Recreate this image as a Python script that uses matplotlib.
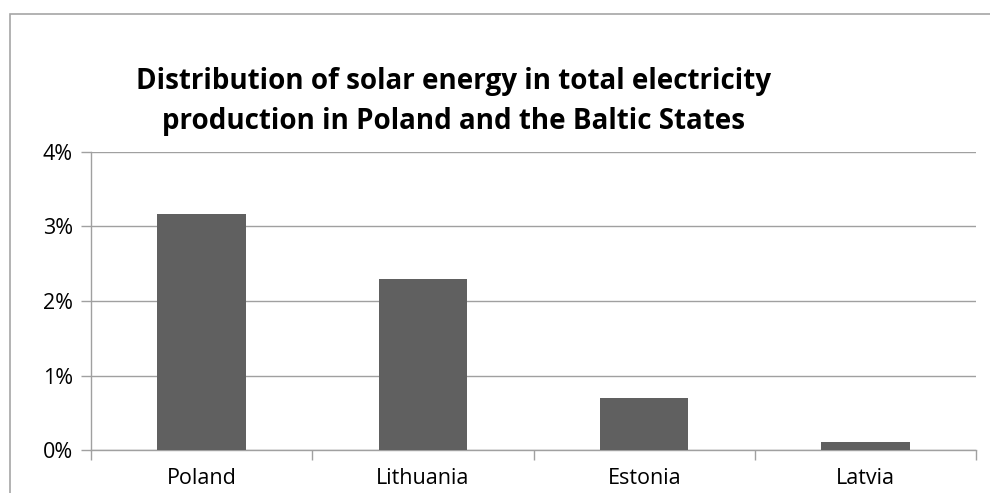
import matplotlib.pyplot as plt
from matplotlib.patches import Rectangle
from matplotlib.ticker import FuncFormatter

countries = ['Poland', 'Lithuania', 'Estonia', 'Latvia']
solar_share = [3.17, 2.30, 0.70, 0.11]
y_ticks = [0, 1, 2, 3, 4]

plt.rcParams['font.family'] = ['Open Sans', 'DejaVu Sans']

fig = plt.figure(figsize=(9.9, 4.93), dpi=100)
ax = fig.add_axes([0.0919, 0.0872, 0.8941, 0.6045])

# outer chart border (runs off right and bottom edges)
fig.patches.append(Rectangle((10 / 990, -0.1), 1.1, 1 - 14 / 493 + 0.1,
                             transform=fig.transFigure, fill=False,
                             edgecolor='#a6a6a6', linewidth=1.2, clip_on=False))

x = list(range(len(countries)))
ax.bar(x, solar_share, width=0.4, color='#606060', zorder=3)

ax.set_xlim(-0.5, 3.5)
ax.set_ylim(0, 4)
ax.set_yticks(y_ticks)
ax.yaxis.set_major_formatter(FuncFormatter(lambda v, p: f'{v:.0f}%'))
ax.grid(axis='y', color='#a0a0a0', linewidth=1, zorder=0)

ax.set_xticks(x)
ax.set_xticklabels(countries)
ax.set_xticks([-0.5, 0.5, 1.5, 2.5, 3.5], minor=True)
ax.tick_params(axis='x', which='major', length=0, pad=13, labelsize=15.5)
ax.tick_params(axis='x', which='minor', length=7, color='#a0a0a0', width=1)
ax.tick_params(axis='y', length=7, color='#a0a0a0', width=1, pad=6, labelsize=15.5)

for s in ['top', 'right']:
    ax.spines[s].set_visible(False)
for s in ['left', 'bottom']:
    ax.spines[s].set_color('#a0a0a0')
    ax.spines[s].set_linewidth(1)

fig.text(453 / 990, 1 - 102 / 493,
         'Distribution of solar energy in total electricity\nproduction in Poland and the Baltic States',
         ha='center', va='center', fontsize=20, fontweight='bold', linespacing=1.5)

fig.savefig('out.png', dpi=100, facecolor='white')
